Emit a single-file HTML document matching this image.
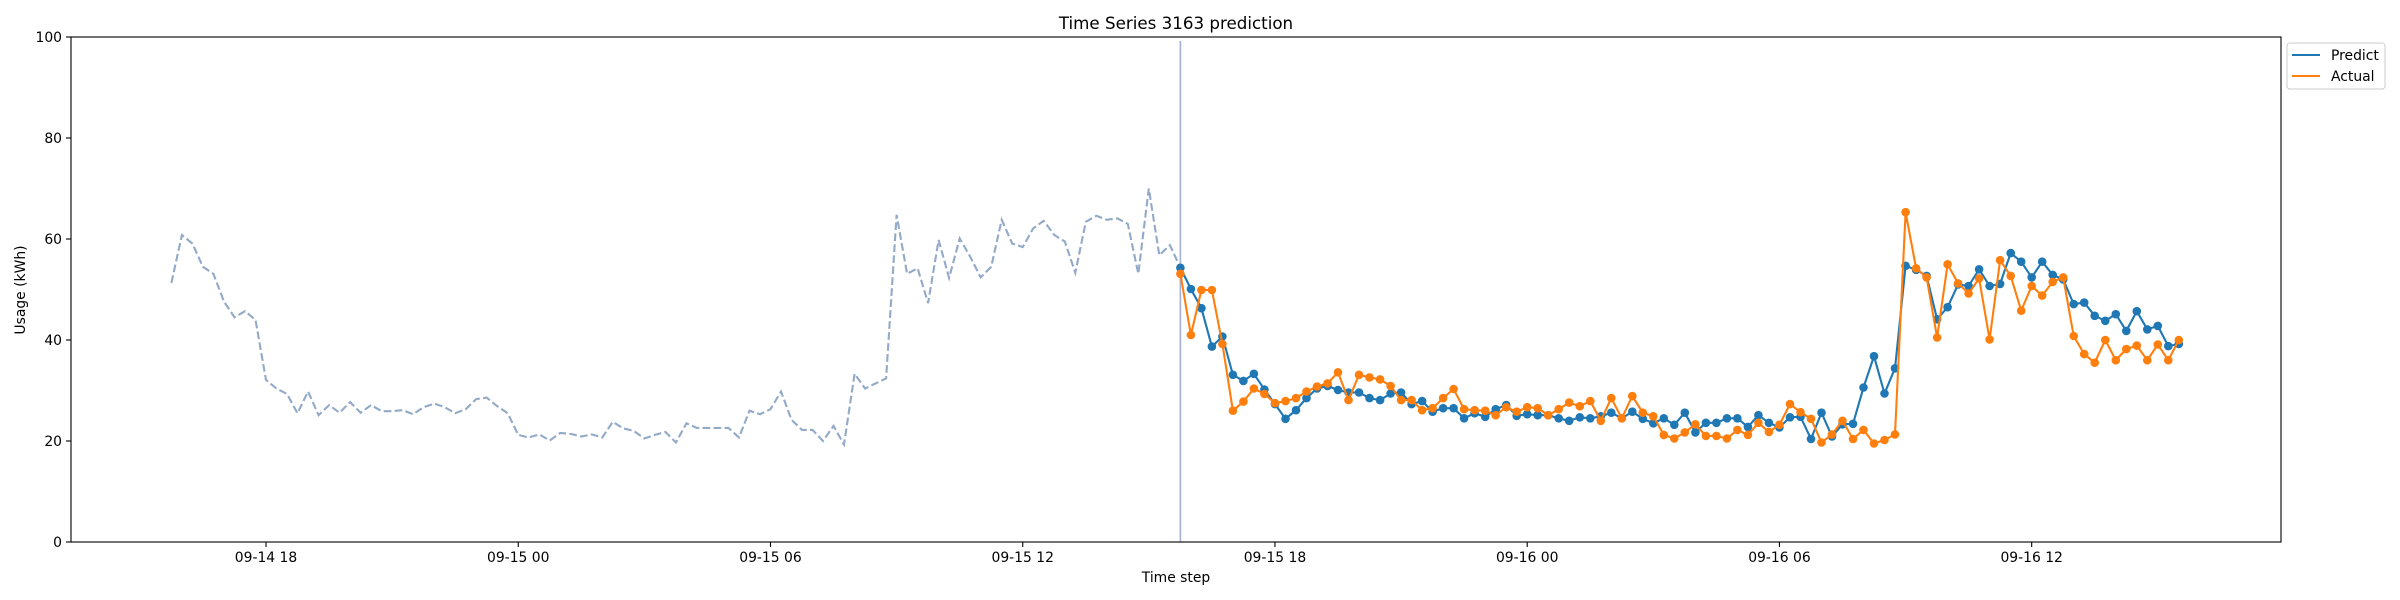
<!DOCTYPE html>
<html><head><meta charset="utf-8"><style>
html,body{margin:0;padding:0;background:#fff;}
svg{display:block;font-family:"DejaVu Sans","Liberation Sans",sans-serif;}
</style></head><body>
<svg id="chart" width="2400" height="600" viewBox="0 0 2400 600" xmlns="http://www.w3.org/2000/svg">
<rect x="0" y="0" width="2400" height="600" fill="#fff"/>
<text x="1176" y="29" font-size="16.7" text-anchor="middle" fill="#000">Time Series 3163 prediction</text>
<g id="plot"></g>
<rect x="71" y="37" width="2210" height="505" fill="none" stroke="#000" stroke-width="1.1"/>
<text x="1176" y="582" font-size="13.9" text-anchor="middle">Time step</text>
<text transform="translate(25,290) rotate(-90)" font-size="13.9" text-anchor="middle">Usage (kWh)</text>
<g>
<rect x="2287" y="43" width="98" height="46" rx="3" fill="#fff" stroke="#ccc" stroke-width="1"/>
<line x1="2292" y1="55" x2="2320" y2="55" stroke="#1f77b4" stroke-width="2.1"/>
<text x="2331" y="60" font-size="13.9">Predict</text>
<line x1="2292" y1="76" x2="2320" y2="76" stroke="#ff7f0e" stroke-width="2.1"/>
<text x="2331" y="81" font-size="13.9">Actual</text>
</g>
</svg>
<script>
const yTicks=[0,20,40,60,80,100];
const xTickHours=[0,6,12,18,24,30,36,42];
const xTickLabels=["09-14 18","09-15 00","09-15 06","09-15 12","09-15 18","09-16 00","09-16 06","09-16 12"];
const historyStartHour=-2.25;
const forecastStartHour=21.75;
const stepHours=0.25;
const history=[51.3,60.8,59.1,54.5,53.1,47.6,44.5,45.7,44.0,32.1,30.4,29.3,25.5,29.8,25.1,27.1,25.6,27.7,25.6,27.1,25.9,25.9,26.1,25.3,26.7,27.4,26.7,25.5,26.3,28.3,28.6,26.9,25.5,
21.2,20.7,21.3,20.1,21.6,21.4,20.9,21.3,20.7,23.8,22.5,22.0,20.5,21.2,21.8,19.7,23.5,22.6,22.6,22.6,22.6,20.7,26.0,25.3,26.3,29.8,24.2,22.2,22.2,20.0,23.0,19.3,
33.3,30.4,31.4,32.4,64.8,53.1,54.2,47.3,59.8,52.3,60.1,56.5,52.4,54.5,63.8,59.1,58.4,62.1,63.6,60.8,59.5,53.3,63.4,64.6,63.8,64.1,63.0,53.1,70.0,56.8,58.8,54.3];
const predict=[54.3,50.1,46.3,38.7,40.7,33.1,31.9,33.3,30.2,27.3,24.4,26.1,28.5,30.4,30.9,30.1,29.6,29.6,28.5,28.1,29.4,29.6,27.3,27.9,25.8,26.5,26.5,24.5,25.5,24.8,26.3,27.1,
25.0,25.3,25.1,25.1,24.5,24.0,24.7,24.5,24.9,25.6,24.5,25.8,24.4,23.5,24.5,23.2,25.6,21.7,23.6,23.6,24.5,24.5,22.8,25.1,23.6,22.7,24.7,24.8,20.4,25.6,20.9,23.3,23.4,
30.6,36.8,29.4,34.4,54.7,53.9,52.7,44.1,46.5,51.0,50.7,54.0,50.7,51.1,57.2,55.5,52.4,55.5,52.9,52.0,47.1,47.4,44.8,43.8,45.1,41.8,45.7,42.1,42.8,38.8,39.2];
const actual=[53.1,41.0,49.9,49.9,39.2,26.0,27.8,30.4,29.3,27.5,27.9,28.5,29.8,30.8,31.4,33.6,28.1,33.1,32.6,32.2,30.9,28.1,28.1,26.1,26.5,28.5,30.3,26.3,26.1,26.0,25.1,26.7,
25.8,26.7,26.5,25.1,26.3,27.6,26.9,27.9,24.0,28.5,24.5,28.9,25.6,24.9,21.2,20.5,21.7,23.3,21.0,21.0,20.5,22.2,21.2,23.6,21.8,23.2,27.3,25.7,24.4,19.7,21.3,24.0,20.4,
22.2,19.5,20.2,21.3,65.3,54.2,52.4,40.5,55.0,51.2,49.2,52.2,40.1,55.8,52.7,45.8,50.7,48.8,51.5,52.4,40.8,37.2,35.5,40.0,36.0,38.2,38.9,36.0,39.1,36.0,40.0];

const NS="http://www.w3.org/2000/svg";
const X0=71,X1=2281,Y0=37,Y1=542;
function xScale(h){return 266+h*42.04;}
function yScale(v){return Y1-(v/100)*(Y1-Y0);}
const g=document.getElementById('plot');
function mk(tag,attrs,parent){const e=document.createElementNS(NS,tag);for(const k in attrs)e.setAttribute(k,attrs[k]);(parent||g).appendChild(e);return e;}

// y ticks
yTicks.forEach(v=>{
  const y=yScale(v);
  const t=mk('line',{x1:X0-5,x2:X0,y1:y,y2:y,stroke:'#000','stroke-width':1.1});
  
  
  const l=mk('text',{x:X0-9,y:y+5,'font-size':13.9,'text-anchor':'end'});
  l.textContent=v;
  
  
});
// x ticks
xTickHours.forEach((h,i)=>{
  const x=xScale(h);
  const t=mk('line',{x1:x,x2:x,y1:Y1,y2:Y1+5,stroke:'#000','stroke-width':1.1});
  
  
  const l=mk('text',{x:x,y:562,'font-size':13.9,'text-anchor':'middle'});
  l.textContent=xTickLabels[i];
  
  
});
// history
const hp=history.map((v,i)=>xScale(historyStartHour+i*stepHours).toFixed(1)+','+yScale(v).toFixed(1)).join(' ');
const hl=mk('polyline',{points:hp,fill:'none',stroke:'#92a9c8','stroke-width':2.1,'stroke-dasharray':'7.7,3.3'});


// vertical forecast-start line
const vx=xScale(forecastStartHour);
const vl=mk('line',{x1:vx,x2:vx,y1:41,y2:Y1,stroke:'#a3b1d6','stroke-width':1.6});


function series(data,color,name){
  const pts=data.map((v,i)=>[xScale(forecastStartHour+i*stepHours),yScale(v)]);
  const pl=mk('polyline',{points:pts.map(p=>p[0].toFixed(1)+','+p[1].toFixed(1)).join(' '),fill:'none',stroke:color,'stroke-width':2.1});
  
  
  pts.forEach(p=>{
    const c=mk('circle',{cx:p[0].toFixed(1),cy:p[1].toFixed(1),r:4.3,fill:color});
    
    
  });
}
series(predict,'#1f77b4','predict');
series(actual,'#ff7f0e','actual');
</script>
</body></html>
